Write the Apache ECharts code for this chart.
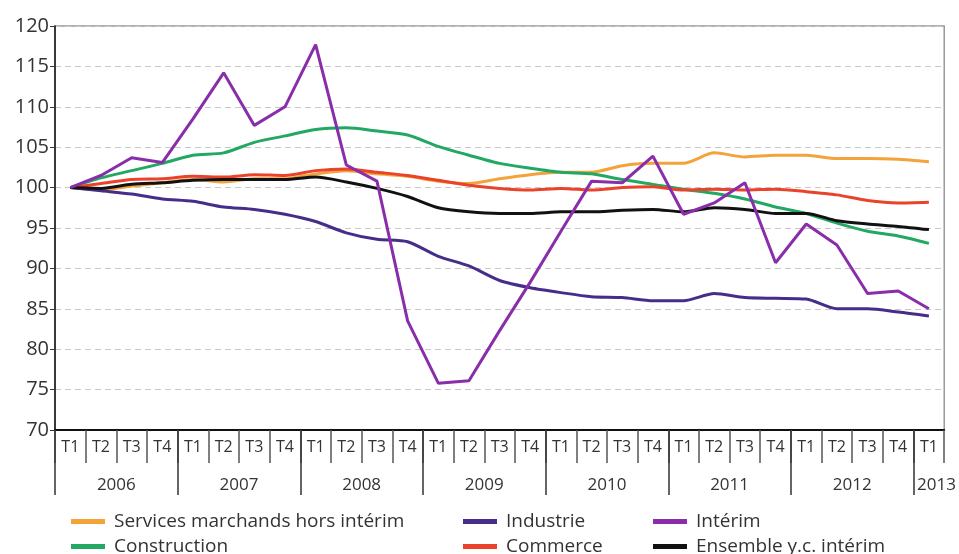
<!DOCTYPE html>
<html><head><meta charset="utf-8">
<script src="https://cdn.jsdelivr.net/npm/echarts@6/dist/echarts.min.js"></script>
<style>html,body{margin:0;padding:0;background:#fff}#c{width:959px;height:554px}</style>
</head><body><div id="c"></div>
<script>
const quarters = ['T1','T2','T3','T4','T1','T2','T3','T4','T1','T2','T3','T4','T1','T2','T3','T4','T1','T2','T3','T4','T1','T2','T3','T4','T1','T2','T3','T4','T1'];
const years = ['2006','2007','2008','2009','2010','2011','2012','2013'];
const yearLabelPos = [2,6,10,14,18,22,26,28.75];
const yearTickPos = [0,4,8,12,16,20,24,28];
const services = [100, 99.7, 100.2, 100.6, 101.0, 100.7, 101.1, 101.1, 101.7, 102.1, 101.7, 101.4, 100.8, 100.5, 101.1, 101.6, 101.9, 101.9, 102.7, 103.0, 103.0, 104.3, 103.8, 104.0, 104.0, 103.6, 103.6, 103.5, 103.2];
const industrie = [100, 99.6, 99.2, 98.6, 98.3, 97.6, 97.3, 96.7, 95.8, 94.4, 93.6, 93.3, 91.5, 90.3, 88.5, 87.6, 87.0, 86.5, 86.4, 86.0, 86.0, 86.9, 86.4, 86.3, 86.2, 85.0, 85.0, 84.6, 84.1];
const interim = [100, 101.5, 103.7, 103.1, 108.5, 114.2, 107.7, 110.0, 117.7, 102.8, 100.8, 83.5, 75.8, 76.1, 82.3, 88.3, 94.6, 100.8, 100.6, 103.9, 96.7, 98.1, 100.6, 90.7, 95.5, 92.9, 86.9, 87.2, 85.0];
const construction = [100, 101.2, 102.1, 103.0, 104.0, 104.3, 105.6, 106.4, 107.2, 107.4, 107.0, 106.5, 105.1, 104.0, 103.0, 102.4, 101.9, 101.7, 101.0, 100.4, 99.8, 99.3, 98.6, 97.6, 96.8, 95.6, 94.6, 94.0, 93.1];
const commerce = [100, 100.5, 101.0, 101.1, 101.4, 101.3, 101.6, 101.5, 102.1, 102.3, 101.9, 101.5, 100.9, 100.3, 99.9, 99.7, 99.9, 99.7, 100.0, 100.1, 99.7, 99.8, 99.7, 99.8, 99.5, 99.1, 98.4, 98.1, 98.2];
const ensemble = [100, 99.9, 100.4, 100.6, 100.9, 101.0, 101.0, 101.0, 101.3, 100.7, 99.9, 98.9, 97.5, 97.0, 96.8, 96.8, 97.0, 97.0, 97.2, 97.3, 97.0, 97.5, 97.3, 96.8, 96.8, 95.9, 95.5, 95.2, 94.8];

const names = ['Services marchands hors intérim','Industrie','Intérim','Construction','Commerce','Ensemble y.c. intérim'];
const colors = {
  'Services marchands hors intérim':'#F4A23A',
  'Industrie':'#472D8A',
  'Intérim':'#8A2DAA',
  'Construction':'#22A862',
  'Commerce':'#E9432B',
  'Ensemble y.c. intérim':'#111111'
};
const FONT = 'Open Sans';
function mkSeries(name, data, smooth, z){
  return {name, type:'line', data, xAxisIndex:0, yAxisIndex:0, smooth, symbol:'none', z,
    lineStyle:{width:3, color:colors[name]}, itemStyle:{color:colors[name]}};
}
function mkLegend(left, top, name){
  return {left, top, orient:'horizontal', itemWidth:34, itemHeight:5, icon:'rect',
    data:[name], textStyle:{fontFamily:FONT, fontSize:19, color:'#333', padding:[0,0,0,4]}};
}
const chart = echarts.init(document.getElementById('c'), null, {renderer:'canvas'});
chart.setOption({
  animation:false,
  color: names.map(n=>colors[n]),
  grid:{left:55, right:14, top:26, bottom:124, show:true, borderColor:'#999', borderWidth:1.5},
  legend:[
    mkLegend(66, 507, 'Services marchands hors intérim'),
    mkLegend(458, 507, 'Industrie'),
    mkLegend(648, 507, 'Intérim'),
    mkLegend(66, 532, 'Construction'),
    mkLegend(458, 532, 'Commerce'),
    mkLegend(648, 532, 'Ensemble y.c. intérim')
  ],
  xAxis:[
    {type:'category', data:quarters, boundaryGap:true, position:'bottom',
     axisLine:{show:true, lineStyle:{color:'#111', width:2}},
     axisTick:{show:true, interval:0, length:33, lineStyle:{color:'#555', width:1.5}},
     axisLabel:{interval:0, margin:9, fontFamily:FONT, fontSize:16, color:'#333'},
     splitLine:{show:false}},
    {type:'value', min:0, max:29, position:'bottom', gridIndex:0,
     axisLine:{show:false},
     axisTick:{show:true, customValues:yearTickPos, length:65, lineStyle:{color:'#333', width:1.5}},
     axisLabel:{customValues:yearLabelPos, margin:47, fontFamily:FONT, fontSize:17, color:'#333',
       formatter:(v)=>years[yearLabelPos.indexOf(v)] || ''},
     splitLine:{show:false}}
  ],
  yAxis:{type:'value', min:70, max:120, interval:5,
    axisLine:{show:true, lineStyle:{color:'#111', width:1.5}},
    axisTick:{show:true, length:5, lineStyle:{color:'#333'}},
    axisLabel:{fontFamily:FONT, fontSize:20, color:'#333', margin:6},
    splitLine:{show:true, lineStyle:{type:[6,4], color:'#c8c8c8', width:1}}},
  series:[
    mkSeries('Services marchands hors intérim', services, 0.25, 2),
    mkSeries('Construction', construction, 0.25, 3),
    mkSeries('Commerce', commerce, 0.25, 4),
    mkSeries('Industrie', industrie, 0.25, 5),
    mkSeries('Ensemble y.c. intérim', ensemble, 0.25, 6),
    mkSeries('Intérim', interim, false, 7)
  ]
});
</script></body></html>
